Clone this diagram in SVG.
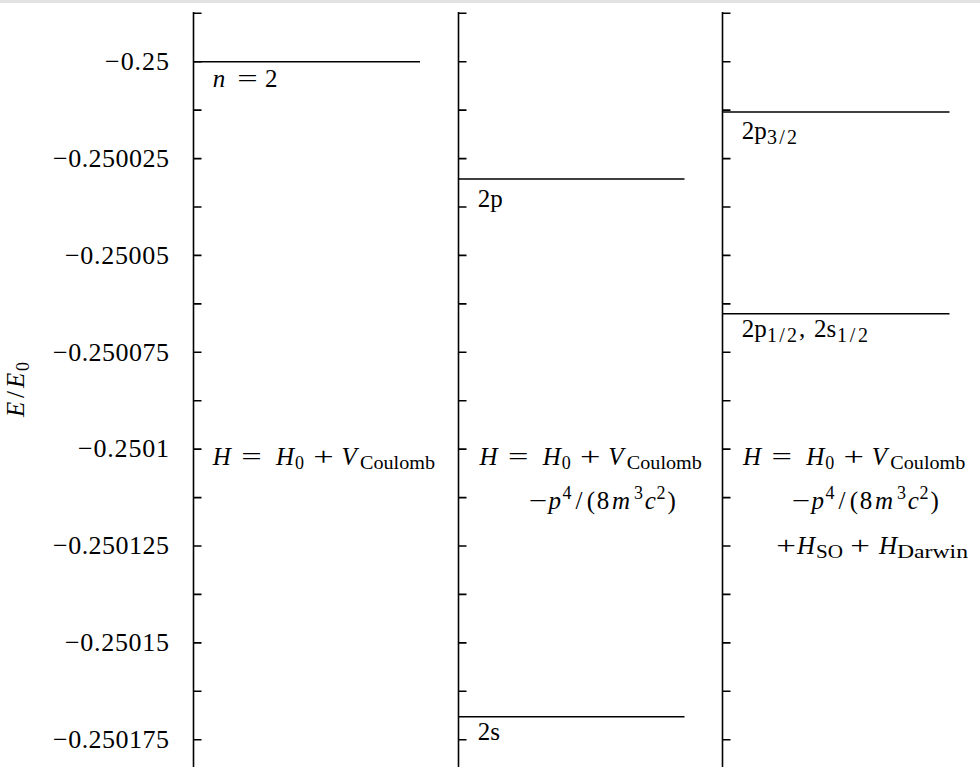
<svg xmlns="http://www.w3.org/2000/svg" xmlns:xlink="http://www.w3.org/1999/xlink" width="980" height="782" viewBox="0 0 980 782">
<style>
.ax{stroke:#000;stroke-width:1.6;fill:none}
.lvl{stroke:#000;stroke-width:1.5;fill:none}
text{font-family:"Liberation Serif","Times New Roman",serif;font-size:25px;fill:#000}
.i{font-style:italic}
.s{font-size:18px}
.ss{font-size:20px}
.op{text-anchor:middle}
.t{text-anchor:end;font-size:26px}
</style>
<defs>
<path id="ticks" class="ax" d="M0,12V767M0,13.3h8M0,61.7h8M0,110.1h8M0,158.6h8M0,207h8M0,255.4h8M0,303.9h8M0,352.3h8M0,400.7h8M0,449.1h8M0,497.6h8M0,546h8M0,594.4h8M0,642.9h8M0,691.3h8M0,739.7h8"/>
</defs>
<rect x="0" y="0" width="980" height="3" fill="#e3e3e3"/>

<g id="y-axis-label">
<text transform="translate(24,386) rotate(-90)" font-size="26"><tspan class="i" x="-31">E</tspan><tspan x="-12">/</tspan><tspan class="i" x="-2">E</tspan><tspan class="s" x="15" dy="5">0</tspan></text>
</g>

<g id="tick-labels">
<text class="t" x="169" y="70" textLength="64" lengthAdjust="spacing">−0.25</text>
<text class="t" x="169" y="166.8" textLength="116" lengthAdjust="spacing">−0.250025</text>
<text class="t" x="169" y="263.6" textLength="104" lengthAdjust="spacing">−0.25005</text>
<text class="t" x="169" y="360.5" textLength="116" lengthAdjust="spacing">−0.250075</text>
<text class="t" x="169" y="457.3" textLength="91" lengthAdjust="spacing">−0.2501</text>
<text class="t" x="169" y="554.2" textLength="116" lengthAdjust="spacing">−0.250125</text>
<text class="t" x="169" y="651.1" textLength="104" lengthAdjust="spacing">−0.25015</text>
<text class="t" x="169" y="747.9" textLength="116" lengthAdjust="spacing">−0.250175</text>
</g>

<g id="panel-1">
<use xlink:href="#ticks" href="#ticks" transform="translate(193.5,0)"/>
<path class="lvl" d="M193.5,61.7H420"/>
<text y="86.5"><tspan class="i" x="212.7">n</tspan><tspan x="265">2</tspan></text>
<text class="op" transform="translate(247.5,86.5) scale(1.45,1)">=</text>
<text y="465"><tspan class="i" x="212.7">H</tspan><tspan class="i" x="276">H</tspan><tspan class="s" x="295" dy="4">0</tspan><tspan class="i" x="341.5" dy="-4">V</tspan><tspan class="s" x="360" dy="4" textLength="75" lengthAdjust="spacingAndGlyphs">Coulomb</tspan></text>
<text class="op" transform="translate(251.5,465) scale(1.45,1)">=</text>
<text class="op" transform="translate(323.5,465) scale(1.45,1)">+</text>
</g>

<g id="panel-2">
<use xlink:href="#ticks" href="#ticks" transform="translate(458.5,0)"/>
<path class="lvl" d="M458.5,179H684.5"/>
<path class="lvl" d="M458.5,716.7H684.5"/>
<text x="477.7" y="207">2p</text>
<text x="477.7" y="740">2s</text>
<text y="465"><tspan class="i" x="479.5">H</tspan><tspan class="i" x="542.8">H</tspan><tspan class="s" x="561.8" dy="4">0</tspan><tspan class="i" x="608.3" dy="-4">V</tspan><tspan class="s" x="626.8" dy="4" textLength="75" lengthAdjust="spacingAndGlyphs">Coulomb</tspan></text>
<text class="op" transform="translate(518.3,465) scale(1.45,1)">=</text>
<text class="op" transform="translate(590.3,465) scale(1.45,1)">+</text>
<text class="op" transform="translate(538,509) scale(1.3,1)">−</text>
<text y="509"><tspan class="i" x="548.5">p</tspan><tspan class="s" x="562.5" dy="-10">4</tspan><tspan x="575.5" dy="10">/</tspan><tspan x="586.8">(</tspan><tspan x="596.7">8</tspan><tspan class="i" x="612">m</tspan><tspan class="s" x="634" dy="-10">3</tspan><tspan class="i" x="644.7" dy="10">c</tspan><tspan class="s" x="656.5" dy="-10">2</tspan><tspan x="667.6" dy="10">)</tspan></text>
</g>

<g id="panel-3">
<use xlink:href="#ticks" href="#ticks" transform="translate(722.5,0)"/>
<path class="lvl" d="M722.5,112H949.5"/>
<path class="lvl" d="M722.5,313.7H949.5"/>
<text y="139"><tspan x="741.7">2p</tspan><tspan class="ss" x="767" dy="5" textLength="30" lengthAdjust="spacing">3/2</tspan></text>
<text y="337"><tspan x="741.7">2p</tspan><tspan class="ss" x="767" dy="5" textLength="30" lengthAdjust="spacing">1/2</tspan><tspan x="799" dy="-5">,</tspan><tspan x="814">2s</tspan><tspan class="ss" x="837" dy="5" textLength="31" lengthAdjust="spacing">1/2</tspan></text>
<text y="465"><tspan class="i" x="743">H</tspan><tspan class="i" x="806.3">H</tspan><tspan class="s" x="825.3" dy="4">0</tspan><tspan class="i" x="871.8" dy="-4">V</tspan><tspan class="s" x="890.3" dy="4" textLength="75" lengthAdjust="spacingAndGlyphs">Coulomb</tspan></text>
<text class="op" transform="translate(781.8,465) scale(1.45,1)">=</text>
<text class="op" transform="translate(853.8,465) scale(1.45,1)">+</text>
<text class="op" transform="translate(801,509) scale(1.3,1)">−</text>
<text y="509"><tspan class="i" x="811.5">p</tspan><tspan class="s" x="825.5" dy="-10">4</tspan><tspan x="838.5" dy="10">/</tspan><tspan x="849.8">(</tspan><tspan x="859.7">8</tspan><tspan class="i" x="875">m</tspan><tspan class="s" x="897" dy="-10">3</tspan><tspan class="i" x="907.7" dy="10">c</tspan><tspan class="s" x="919.5" dy="-10">2</tspan><tspan x="930.6" dy="10">)</tspan></text>
<text class="op" transform="translate(786,554) scale(1.4,1)">+</text>
<text y="554"><tspan class="i" x="797">H</tspan><tspan class="s" x="816" dy="4" textLength="27" lengthAdjust="spacingAndGlyphs">SO</tspan><tspan class="i" x="879" dy="-4">H</tspan><tspan class="s" x="897" dy="4" textLength="71" lengthAdjust="spacingAndGlyphs">Darwin</tspan></text>
<text class="op" transform="translate(860,554) scale(1.4,1)">+</text>
</g>
</svg>
